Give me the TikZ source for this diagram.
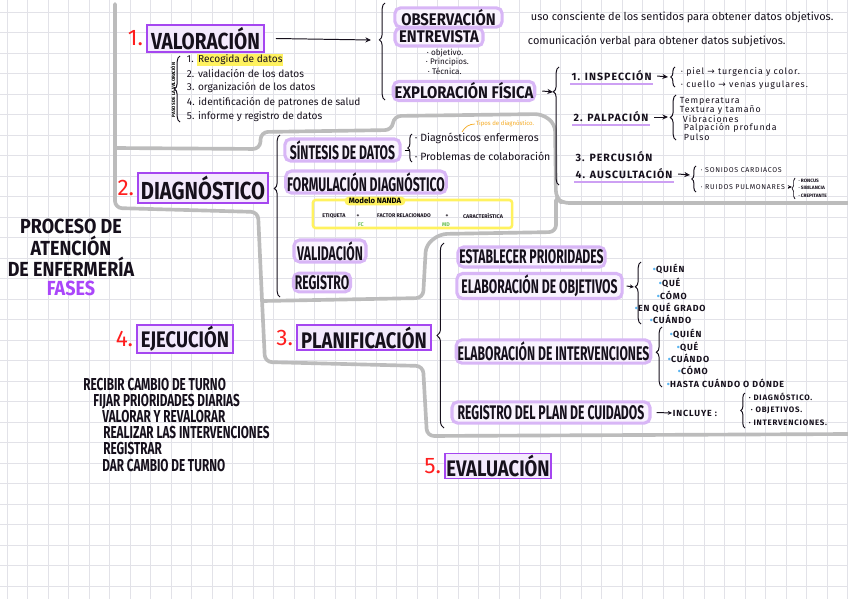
\documentclass[tikz,border=0pt]{standalone}
\usepackage{fontspec}
\setmainfont{Fira Sans}
\newfontfamily\handw[FakeStretch=0.82]{Fira Sans}
\newfontfamily\handm[FakeStretch=0.88]{Fira Sans}
\newfontfamily\handn[FakeStretch=0.62]{Fira Sans}
\newfontfamily\handl[FakeStretch=0.68]{Fira Sans}
\newfontfamily\spaced[LetterSpace=10]{Fira Sans}
\newfontfamily\symf{DejaVu Sans}
\usepackage{xcolor}
\usetikzlibrary{arrows.meta, positioning, decorations.pathreplacing, calc}
\definecolor{inkc}      {RGB}{ 22, 16, 28}
\definecolor{numred}    {RGB}{255, 30, 30}
\definecolor{boxpur}    {RGB}{165, 70,240}
\definecolor{boxbg}     {RGB}{244,234,253}
\definecolor{hlpur}     {RGB}{216,182,246}
\definecolor{hlbg}      {RGB}{249,243,254}
\definecolor{ulpur}     {RGB}{205,160,243}
\definecolor{regiongray}{RGB}{188,188,188}
\definecolor{gridgray}  {RGB}{226,226,232}
\definecolor{nandayel}  {RGB}{255,242, 95}
\definecolor{tipsorange}{RGB}{245,170, 35}
\definecolor{fcgreen}   {RGB}{105,190, 85}
\definecolor{dotblue}   {RGB}{ 90,180,240}
\definecolor{fasespur}  {RGB}{170, 70,250}
\newcommand{\ra}{{\symf →}}
\newcommand{\bluedot}{\textcolor{dotblue}{•}}
\newcommand{\hly}[1]{{\setlength{\fboxsep}{0.6pt}\colorbox{nandayel}{#1}}}
\tikzset{
  phbox/.style={rectangle, draw=boxpur, line width=1.1pt, fill=boxbg, text=inkc,
    font=\handw\bfseries\fontsize{16}{17}\selectfont, inner sep=1pt},
  num/.style={font=\fontsize{16}{17}\selectfont, text=numred, inner sep=0pt},
  hlbox/.style={rectangle, rounded corners=4pt, draw=hlpur, line width=2.2pt, fill=hlbg,
    text=inkc, inner sep=1pt},
  hlw/.style={hlbox, font=\handm\bfseries\fontsize{12}{13}\selectfont},
  hln/.style={hlbox, font=\handn\bfseries\fontsize{14}{15}\selectfont},
  stepname/.style={font=\spaced\bfseries\fontsize{7.5}{8}\selectfont, text=inkc, anchor=west, inner sep=1pt},
  note/.style={font=\fontsize{7.8}{8}\selectfont, text=inkc, anchor=west, inner sep=0.5pt},
  smallnote/.style={font=\spaced\fontsize{6.3}{7}\selectfont, text=inkc, anchor=west, inner sep=0.5pt},
  tinynote/.style={font=\bfseries\fontsize{3.4}{4}\selectfont, text=inkc, anchor=west, inner sep=0.3pt},
  caplist/.style={font=\handl\bfseries\fontsize{12.3}{13}\selectfont, text=inkc, anchor=west,
    inner sep=0pt, text height=8.6pt, text depth=0pt},
  dotitem/.style={font=\spaced\bfseries\fontsize{6.3}{7}\selectfont, text=inkc, anchor=west, inner sep=0.5pt},
  nandatxt/.style={font=\bfseries\fontsize{3.8}{4}\selectfont, text=inkc, inner sep=0.5pt},
  brc/.style={decorate, decoration={brace, amplitude=4pt}, line width=0.7pt, draw=inkc},
  region/.style={draw=regiongray, line width=2.6pt, rounded corners=5pt, line cap=round, line join=round},
  arr/.style={-{Stealth[length=4pt,width=3.6pt]}, line width=0.7pt, color=inkc},
  ulline/.style={draw=ulpur, line width=1.5pt},
  gridln/.style={draw=gridgray, line width=0.5pt},
}
\begin{document}
\begin{tikzpicture}[x=0.025cm, y=-0.025cm]
\useasboundingbox (0,0) rectangle (848,599);
\fill[white] (0,0) rectangle (848,599);
\foreach \gx in {7,27.5,...,848} \draw[gridln] (\gx,0) -- (\gx,599);
\foreach \gy in {12,32.5,...,599} \draw[gridln] (0,\gy) -- (848,\gy);

\draw[region] (115,4) -- (115,208) -- (258,212) -- (262,300) -- (265,362) -- (423,366) -- (427,436) -- (848,434);
\draw[region] (115,148) -- (260,149) -- (261,132) -- (392,130) -- (394,116) -- (542,114) -- (555,124) -- (556,198) -- (562,203) -- (848,203);
\draw[region] (263,301) -- (423,298) -- (426,245) -- (440,234) -- (556,232) -- (556,200);

% valoracion
\node[phbox, font=\handw\bfseries\fontsize{16.5}{17}\selectfont, minimum width=2.93cm, minimum height=0.68cm] (valor) at (205.5,38.5) {VALORACIÓN};
\node[num, left=2pt of valor] (n1) {1.};
\draw[brc] (180,122) -- (180,56);
\node[font=\bfseries\fontsize{3.3}{4}\selectfont, rotate=90, inner sep=0pt] (pasos) at (173,90) {PASOS DE LA VALORACIÓN};
\node[note, font=\fontsize{7.2}{7.5}\selectfont] (pv1) at (186,60) {1. \hly{Recogida de datos}};
\node[note, font=\fontsize{7.2}{7.5}\selectfont] (pv2) at (186,74) {2. validación de los datos};
\node[note, font=\fontsize{7.2}{7.5}\selectfont] (pv3) at (186,88) {3. organización de los datos};
\node[note, font=\fontsize{7.2}{7.5}\selectfont] (pv4) at (186,103) {4. identificación de patrones de salud};
\node[note, font=\fontsize{7.2}{7.5}\selectfont] (pv5) at (186,117) {5. informe y registro de datos};

\coordinate (valtip) at (371,40);
\draw[arr] (valor.east) ++(11,0) -- (valtip);
\draw[brc, decoration={aspect=0.62}] (385,100) -- (385,3);
\node[hlw, minimum width=2.68cm, minimum height=0.48cm] (obs) at (448.5,17.5) {OBSERVACIÓN};
\node[hlw, minimum width=2.2cm, minimum height=0.45cm] (entr) at (439,37) {ENTREVISTA};
\node[hlw, minimum width=3.4cm, minimum height=0.45cm] (expl) at (464,91) {EXPLORACIÓN FÍSICA};
\node[note] (obsnote) at (530,17) {uso consciente de los sentidos para obtener datos objetivos.};
\node[note] (entrnote) at (527,41) {comunicación verbal para obtener datos subjetivos.};
\node[smallnote, font=\fontsize{5.8}{6}\selectfont] (ent1) at (426,53) {· objetivo.};
\node[smallnote, font=\fontsize{5.8}{6}\selectfont] (ent2) at (425,62) {· Principios.};
\node[smallnote, font=\fontsize{5.8}{6}\selectfont] (ent3) at (427,71) {· Técnica.};

\coordinate (explotip) at (553,92);
\draw[arr] (expl.east) ++(6,0) -- (explotip);
\draw[brc, decoration={aspect=0.79}] (559,185) -- (559,67);
\node[stepname] (insp) at (570,76) {1. INSPECCIÓN};
\node[stepname] (palp) at (572,117) {2. PALPACIÓN};
\node[stepname] (perc) at (574,157) {3. PERCUSIÓN};
\node[stepname] (ausc) at (574,174) {4. AUSCULTACIÓN};
\draw[ulline] ([yshift=-1pt]insp.south west) -- ([yshift=-1pt]insp.south east);
\draw[ulline] ([yshift=-1pt]palp.south west) -- ([yshift=-1pt]palp.south east);
\draw[ulline] ([yshift=-1pt]ausc.south west) -- ([yshift=-1pt]ausc.south east);

\coordinate (insptip) at (668,77);
\draw[arr] (insp.east) ++(4,0) -- (insptip);
\draw[brc, decoration={amplitude=3pt}] (675,87) -- (675,67);
\node[smallnote] (piel) at (680,72) {· piel \ra{} turgencia y color.};
\node[smallnote] (cuello) at (680,85) {· cuello \ra{} venas yugulares.};

\coordinate (palptip) at (668,117);
\draw[arr] (palp.east) ++(4,0) -- (palptip);
\draw[brc] (676,140) -- (676,95);
\node[smallnote] (pa1) at (679,101) {Temperatura};
\node[smallnote] (pa2) at (679,110) {Textura y tamaño};
\node[smallnote] (pa3) at (682,119) {Vibraciones};
\node[smallnote] (pa4) at (683,128) {Palpación profunda};
\node[smallnote] (pa5) at (683,137) {Pulso};

\coordinate (ausctip) at (690,175);
\draw[arr] (ausc.east) ++(4,0) -- (ausctip);
\draw[brc, decoration={amplitude=3pt}] (696,192) -- (696,166);
\node[smallnote, font=\spaced\fontsize{5}{5.5}\selectfont] (card) at (700,170) {· SONIDOS CARDIACOS};
\node[smallnote, font=\spaced\fontsize{5}{5.5}\selectfont] (pulm) at (700,187) {· RUIDOS PULMONARES};
\coordinate (pulmtip) at (792,187);
\draw[arr, -{Stealth[length=3pt,width=2.6pt]}] (pulm.east) ++(2,0) -- (pulmtip);
\draw[brc, decoration={amplitude=2pt}, line width=0.5pt] (795,199) -- (795,178);
\node[tinynote] (ronc) at (798,181) {· RONCUS};
\node[tinynote] (sibil) at (798,188) {· SIBILANCIA};
\node[tinynote] (crep) at (798,196) {· CREPITANTE};

% diagnostico
\node[phbox, font=\handw\bfseries\fontsize{17.5}{18}\selectfont, minimum width=3.25cm, minimum height=0.75cm] (diag) at (203,188) {DIAGNÓSTICO};
\node[num, left=2pt of diag] (n2) {2.};
\draw[brc, decoration={aspect=0.67}] (280,297) -- (280,135);
\node[hln, minimum width=2.88cm, minimum height=0.5cm] (sint) at (342.5,150) {SÍNTESIS DE DATOS};
\coordinate (sinttip) at (410,150);
\draw[line width=0.7pt] (sint.east) ++(3,0) -- (sinttip);
\draw[brc, decoration={amplitude=3pt}] (412,162) -- (412,134);
\node[note, font=\fontsize{7.5}{8}\selectfont] (denf) at (414,138) {· Diagnósticos enfermeros};
\node[note, font=\fontsize{7.5}{8}\selectfont] (pcol) at (414,156) {· Problemas de colaboración};
\node[note, font=\fontsize{4.3}{5}\selectfont, text=tipsorange] (tipos) at (475,124) {Tipos de diagnóstico.};
\coordinate (tiposend) at (462,132);
\draw[tipsorange, line width=0.5pt] (tipos.west) to[bend right=30] (tiposend);
\node[hln, minimum width=3.8cm, minimum height=0.5cm] (form) at (366,182) {FORMULACIÓN DIAGNÓSTICO};
\node[draw=nandayel, line width=1.8pt, rounded corners=2pt, minimum width=4.98cm, minimum height=0.7cm] (nanda) at (412.5,214) {};
\node[fill=nandayel, rounded corners=3pt, inner xsep=3pt, inner ysep=1pt, font=\bfseries\fontsize{5.5}{6}\selectfont] (nandalbl) at (375,201) {Modelo NANDA};
\node[nandatxt] (etiq) at (334,216) {ETIQUETA};
\node[nandatxt] (plus1) at (358,216) {+};
\node[nandatxt] (factor) at (404,216) {FACTOR RELACIONADO};
\node[nandatxt] (plus2) at (447,216) {+};
\node[nandatxt] (caract) at (483,216) {CARACTERÍSTICA};
\node[nandatxt, text=fcgreen] (fc) at (361,225) {FC};
\node[nandatxt, text=fcgreen] (md) at (446,225) {MD};
\node[hln, minimum width=1.8cm, minimum height=0.45cm] (valid) at (330,251) {VALIDACIÓN};
\node[hln, minimum width=1.4cm, minimum height=0.47cm] (regis) at (322,282.5) {REGISTRO};

% titulo
\node[font=\handm\bfseries\fontsize{14.5}{13.6}\selectfont, align=center, text=inkc] (title) at (71,257.5)
  {PROCESO DE\\ATENCIÓN\\DE ENFERMERÍA\\\textcolor{fasespur}{FASES}};

% planificacion
\node[phbox, minimum width=3.35cm, minimum height=0.63cm] (plan) at (364,337.5) {PLANIFICACIÓN};
\node[num, left=2pt of plan] (n3) {3.};
\draw[brc, decoration={amplitude=5pt}] (444,428) -- (444,243);
\node[hln, minimum width=3.68cm, minimum height=0.5cm] (estab) at (531.5,257) {ESTABLECER PRIORIDADES};
\node[hln, minimum width=4.13cm, minimum height=0.55cm] (eobj) at (539.5,286) {ELABORACIÓN DE OBJETIVOS};
\node[hln, minimum width=4.83cm, minimum height=0.58cm] (eint) at (553.5,351.5) {ELABORACIÓN DE INTERVENCIONES};
\node[hln, minimum width=4.95cm, minimum height=0.53cm] (rplan) at (551,412.5) {REGISTRO DEL PLAN DE CUIDADOS};

\coordinate (eobjtip) at (634,287);
\draw[arr, -{Stealth[length=3pt,width=2.8pt]}] (eobj.east) ++(3,0) -- (eobjtip);
\draw[brc, decoration={aspect=0.6}] (641,324) -- (641,262);
\node[dotitem] (oq1) at (652,269) {\bluedot QUIÉN};
\node[dotitem] (oq2) at (658,283) {\bluedot QUÉ};
\node[dotitem] (oq3) at (656,295) {\bluedot CÓMO};
\node[dotitem] (oq4) at (634,308) {\bluedot EN QUÉ GRADO};
\node[dotitem] (oq5) at (649,319) {\bluedot CUÁNDO};

\draw[brc, decoration={aspect=0.58}] (662,387) -- (662,327);
\node[dotitem] (iq1) at (669,334) {\bluedot QUIÉN};
\node[dotitem] (iq2) at (676,347) {\bluedot QUÉ};
\node[dotitem] (iq3) at (667,358) {\bluedot CUÁNDO};
\node[dotitem] (iq4) at (677,370) {\bluedot CÓMO};
\node[dotitem] (iq5) at (666,383) {\bluedot HASTA CUÁNDO O DÓNDE};

\node[dotitem] (incl) at (672,413) {INCLUYE :};
\draw[arr, -{Stealth[length=3pt,width=2.8pt]}] (rplan.east) ++(5,0) -- (incl.west);
\draw[brc, decoration={amplitude=3pt}] (745,428) -- (745,393);
\node[dotitem, font=\spaced\bfseries\fontsize{5.6}{6}\selectfont] (rd1) at (748,397) {· DIAGNÓSTICO.};
\node[dotitem, font=\spaced\bfseries\fontsize{5.6}{6}\selectfont] (rd2) at (750,410) {· OBJETIVOS.};
\node[dotitem, font=\spaced\bfseries\fontsize{5.6}{6}\selectfont] (rd3) at (748,423) {· INTERVENCIONES.};

% ejecucion
\node[phbox, minimum width=2.4cm, minimum height=0.6cm] (ejec) at (185,339) {EJECUCIÓN};
\node[num, left=2pt of ejec] (n4) {4.};
\node[caplist] (ej1) at (83,384) {RECIBIR CAMBIO DE TURNO};
\node[caplist] (ej2) at (93,400) {FIJAR PRIORIDADES DIARIAS};
\node[caplist] (ej3) at (102,416) {VALORAR Y REVALORAR};
\node[caplist] (ej4) at (103,432) {REALIZAR LAS INTERVENCIONES};
\node[caplist] (ej5) at (103,448) {REGISTRAR};
\node[caplist] (ej6) at (102,465) {DAR CAMBIO DE TURNO};

% evaluacion
\node[phbox, minimum width=2.6cm, minimum height=0.6cm] (eval) at (498,466) {EVALUACIÓN};
\node[num, left=2pt of eval] (n5) {5.};
\end{tikzpicture}
\end{document}
